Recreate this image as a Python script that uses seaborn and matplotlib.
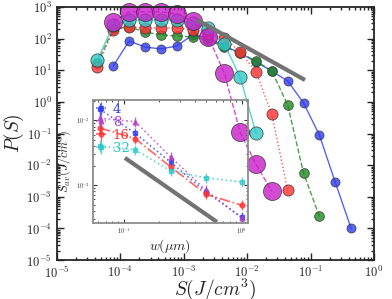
import math

import matplotlib
matplotlib.use("Agg")
import matplotlib.pyplot as plt
import matplotlib.ticker as mticker
import seaborn as sns

# main panel: energy density bins S (J/cm^3)
S = [4.37e-5, 7.76e-5, 1.38e-4, 2.45e-4, 4.37e-4, 7.76e-4, 1.38e-3, 2.45e-3,
     4.37e-3, 7.76e-3, 1.38e-2, 2.45e-2, 4.37e-2, 7.76e-2, 0.138, 0.245, 0.437]

P_4 = [13.6, 84, 54, 47, 58, 130, 104, 58, 35, 18.2, 9.4, 4.55, 0.92, 0.089,
       2.9e-3, 1.0e-4]
P_8 = [16.9, 200, 233, 162, 130, 121, 112, 90, 54, 35, 19.5, 9.4, 0.79,
       5.6e-3, 2.4e-4]
P_16 = [12.6, 187, 233, 216, 216, 216, 187, 140, 104, 37.7, 8.8, 0.41, 1.6e-3]
P_32 = [21, 269, 388, 388, 388, 388, 312, 216, 67, 6.1, 0.103]
P_64 = [335, 695, 695, 695, 600, 360, 112, 8.1, 0.11, 0.0108, 1.5e-3]

guide_S = [1.62e-3, 0.0817]
guide_P = [390, 4.9]

# inset: average energy vs width
w = [0.0625, 0.125, 0.25, 0.5, 1.0]
Sav_4 = [0.0148, 0.0063, 0.00224, 7.8e-4, 3.2e-4]
Sav_8 = [0.0107, 0.0095, 0.0027, 8.3e-4, 3.1e-4]
Sav_16 = [0.0076, 0.0052, 0.0019, 7.2e-4, 4.9e-4]
Sav_32 = [0.0040, 0.0035, 0.00166, 0.00129, 0.00112]
err_frac = [0.25, 0.2, 0.2, 0.2, 0.2]
inset_labels = ["4", "8", "16", "32"]

inset_guide_w = [0.102, 0.617]
inset_guide_S = [2.63e-3, 2.7e-4]

sns.set_style("ticks")
plt.rcParams["mathtext.fontset"] = "cm"
plt.rcParams["font.family"] = ["DejaVu Serif"]


def pow10(v, pos):
    return r"$10^{%d}$" % round(math.log10(v))


fig = plt.figure(figsize=(3.92, 2.99), dpi=100)
ax = fig.add_axes([0.145, 0.130, 0.809, 0.847])

series = [
    (S[1:], P_4, "#2f3cf0", "-", 6.5),
    (S[:len(P_8)], P_8, "#1f8a1f", "--", 7.0),
    (S[:len(P_16)], P_16, "#ff3030", ":", 8.0),
    (S[:len(P_32)], P_32, "#30c8c8", "-", 9.5),
    (S[1:1 + len(P_64)], P_64, "#c81ec8", "--", 13.0),
]
for xs, ys, col, ls, ms in series:
    sns.lineplot(x=xs, y=ys, ax=ax, color=col, linestyle=ls, lw=1.0,
                 marker="o", markersize=ms, markeredgecolor="#333333",
                 markeredgewidth=0.6, alpha=0.8, clip_on=False)

ax.plot(guide_S, guide_P, color="0.45", lw=3, solid_capstyle="butt")

ax.set_xscale("log")
ax.set_yscale("log")
ax.set_xlim(1e-5, 1)
ax.set_ylim(1e-5, 1e3)
ax.xaxis.set_major_formatter(mticker.FuncFormatter(pow10))
ax.yaxis.set_major_formatter(mticker.FuncFormatter(pow10))
ax.yaxis.set_major_locator(mticker.LogLocator(base=10, numticks=20))
ax.yaxis.set_minor_locator(mticker.LogLocator(base=10, subs=range(2, 10), numticks=20))
ax.yaxis.set_minor_formatter(mticker.NullFormatter())
ax.tick_params(which="both", direction="in", top=True, right=True,
               labelsize=9, width=1)
ax.tick_params(which="major", length=5)
ax.tick_params(which="minor", length=2.5)
for sp in ax.spines.values():
    sp.set_linewidth(1.3)
ax.set_xlabel(r"$S(J/cm^3)$", fontsize=14, labelpad=-3)
ax.set_ylabel(r"$P(S)$", fontsize=14, labelpad=0)

# inset
axi = fig.add_axes([0.237, 0.254, 0.395, 0.411])
axi.patch.set_alpha(0)
inset_series = [
    (Sav_4, "#2f3cf0", "s", ":"),
    (Sav_8, "#b040c0", "^", ":"),
    (Sav_16, "#ff3030", "o", "-."),
    (Sav_32, "#30c8c8", "s", ":"),
]
handles = []
for (ys, col, mk, ls), lab in zip(inset_series, inset_labels):
    yerr = [[v * f / (1 + f) for v, f in zip(ys, err_frac)],
            [v * f for v, f in zip(ys, err_frac)]]
    h = axi.errorbar(w, ys, yerr=yerr, color=col, marker=mk, markersize=3.5,
                     linestyle=ls, lw=1.2, elinewidth=1, alpha=0.75, label=lab)
    handles.append(h)
axi.plot(inset_guide_w, inset_guide_S, color="0.45", lw=3, solid_capstyle="butt")
axi.set_xscale("log")
axi.set_yscale("log")
axi.set_xlim(0.0546, 1.125)
axi.set_ylim(2.6e-4, 0.0204)
axi.xaxis.set_major_formatter(mticker.FuncFormatter(pow10))
axi.yaxis.set_major_formatter(mticker.FuncFormatter(pow10))
axi.xaxis.set_minor_formatter(mticker.NullFormatter())
axi.yaxis.set_minor_formatter(mticker.NullFormatter())
axi.tick_params(which="both", direction="in", top=True, right=True,
                labelsize=4.5, colors="0.2", pad=2)
axi.tick_params(which="major", length=3)
axi.tick_params(which="minor", length=1.5)
for sp in axi.spines.values():
    sp.set_color("0.55")
    sp.set_linewidth(1.3)
axi.set_xlabel(r"$w(\mu m)$", fontsize=10, labelpad=1)
axi.set_ylabel(r"$S_{av}(J/cm^3)$", fontsize=9, labelpad=2)
leg = axi.legend(handles=handles, loc="upper left", frameon=False, fontsize=9.5,
                 handlelength=0.8, handletextpad=0.5, labelspacing=0.0,
                 borderaxespad=0.1, borderpad=0.1)
for t, (_, col, _, _) in zip(leg.get_texts(), inset_series):
    t.set_color(col)

fig.savefig("out.png", dpi=100)
